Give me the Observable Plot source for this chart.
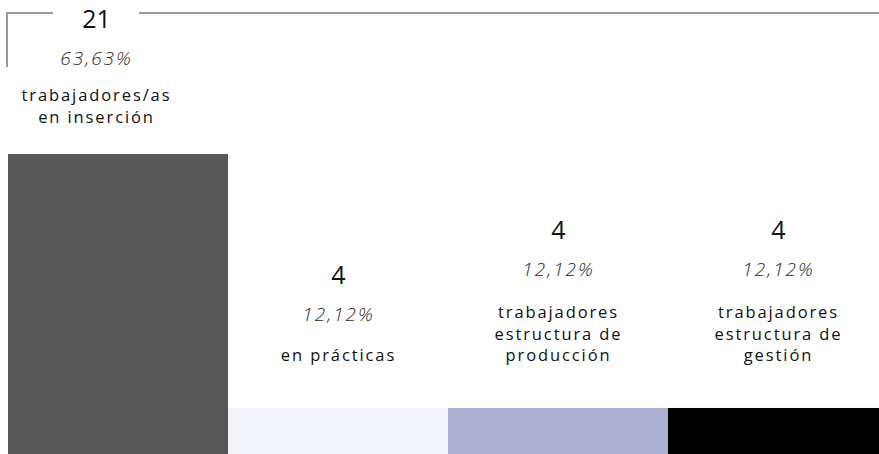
<!DOCTYPE html>
<html>
<head>
<meta charset="utf-8">
<script src="https://cdn.jsdelivr.net/npm/d3@7"></script>
<script src="https://cdn.jsdelivr.net/npm/@observablehq/plot@0.6"></script>
<style>
  html, body { margin: 0; padding: 0; background: #fff; }
  #chart svg { display: block; }
  g[font-size="19"] text { letter-spacing: 2px; }
  g[font-size="16.5"] text { letter-spacing: 1.9px; }
</style>
</head>
<body>
<div id="chart"></div>
<script>
// ---- data ----
const categories = [
  "trabajadores/as\nen inserción",
  "en prácticas",
  "trabajadores\nestructura de\nproducción",
  "trabajadores\nestructura de\ngestión"
];
const counts = [21, 4, 4, 4];
const percents = ["63,63%", "12,12%", "12,12%", "12,12%"];
const colors = ["#575757", "#f2f3f8", "#adb0d3", "#000000"];
const yBase = 0.92;

const data = categories.map((c, i) => ({category: c, count: counts[i], pct: percents[i], idx: i}));

const font = "'Open Sans', 'Noto Sans', sans-serif";

function block(filter, {dx = 0, dyN, dyP, dyC}) {
  return [
    Plot.text(data, {filter, x: "category", y: "count", text: d => String(d.count),
      dx, dy: dyN, lineAnchor: "bottom", fontSize: 25, fontWeight: 500, fill: "#111"}),
    Plot.text(data, {filter, x: "category", y: "count", text: "pct",
      dx, dy: dyP, lineAnchor: "bottom", fontSize: 19, fontWeight: 300, fontStyle: "italic", fill: "#2a2a2a"}),
    Plot.text(data, {filter, x: "category", y: "count", text: "category",
      dx, dy: dyC, lineAnchor: "bottom", lineHeight: 1.32, fontSize: 16.5, fill: "#111"})
  ];
}

function bracket(index, scales, values, dims) {
  const x0 = scales.x(categories[0]);
  const bw = scales.x(categories[1]) - x0;
  const left = x0 - 1;
  const cx = x0 + bw / 2 - 22;
  const top = scales.y(counts[0]) - 141;
  const g = d3.create("svg:g");
  g.append("path")
    .attr("d", `M${left},${top + 54}V${top}H${cx - 43}M${cx + 43},${top}H${dims.width}`)
    .attr("fill", "none")
    .attr("stroke", "#9b9b9b")
    .attr("stroke-width", 2);
  return g.node();
}

const chart = Plot.plot({
  width: 879,
  height: 454,
  margin: 0,
  style: {fontFamily: font, background: "#fff"},
  x: {domain: categories, range: [8, 888], padding: 0, axis: null},
  y: {domain: [yBase, 21], range: [454, 154], axis: null},
  color: {domain: categories, range: colors},
  marks: [
    Plot.barY(data, {x: "category", y1: yBase, y2: "count", fill: "category", inset: 0}),
    ...block((d) => d.idx === 0, {dx: -22, dyN: -127, dyP: -90, dyC: -32}),
    ...block((d) => d.idx === 1, {dyN: -124, dyP: -87, dyC: -47}),
    ...block((d) => d.idx >= 2, {dyN: -169, dyP: -132, dyC: -47}),
    bracket
  ]
});
document.getElementById("chart").appendChild(chart);
</script>
</body>
</html>
